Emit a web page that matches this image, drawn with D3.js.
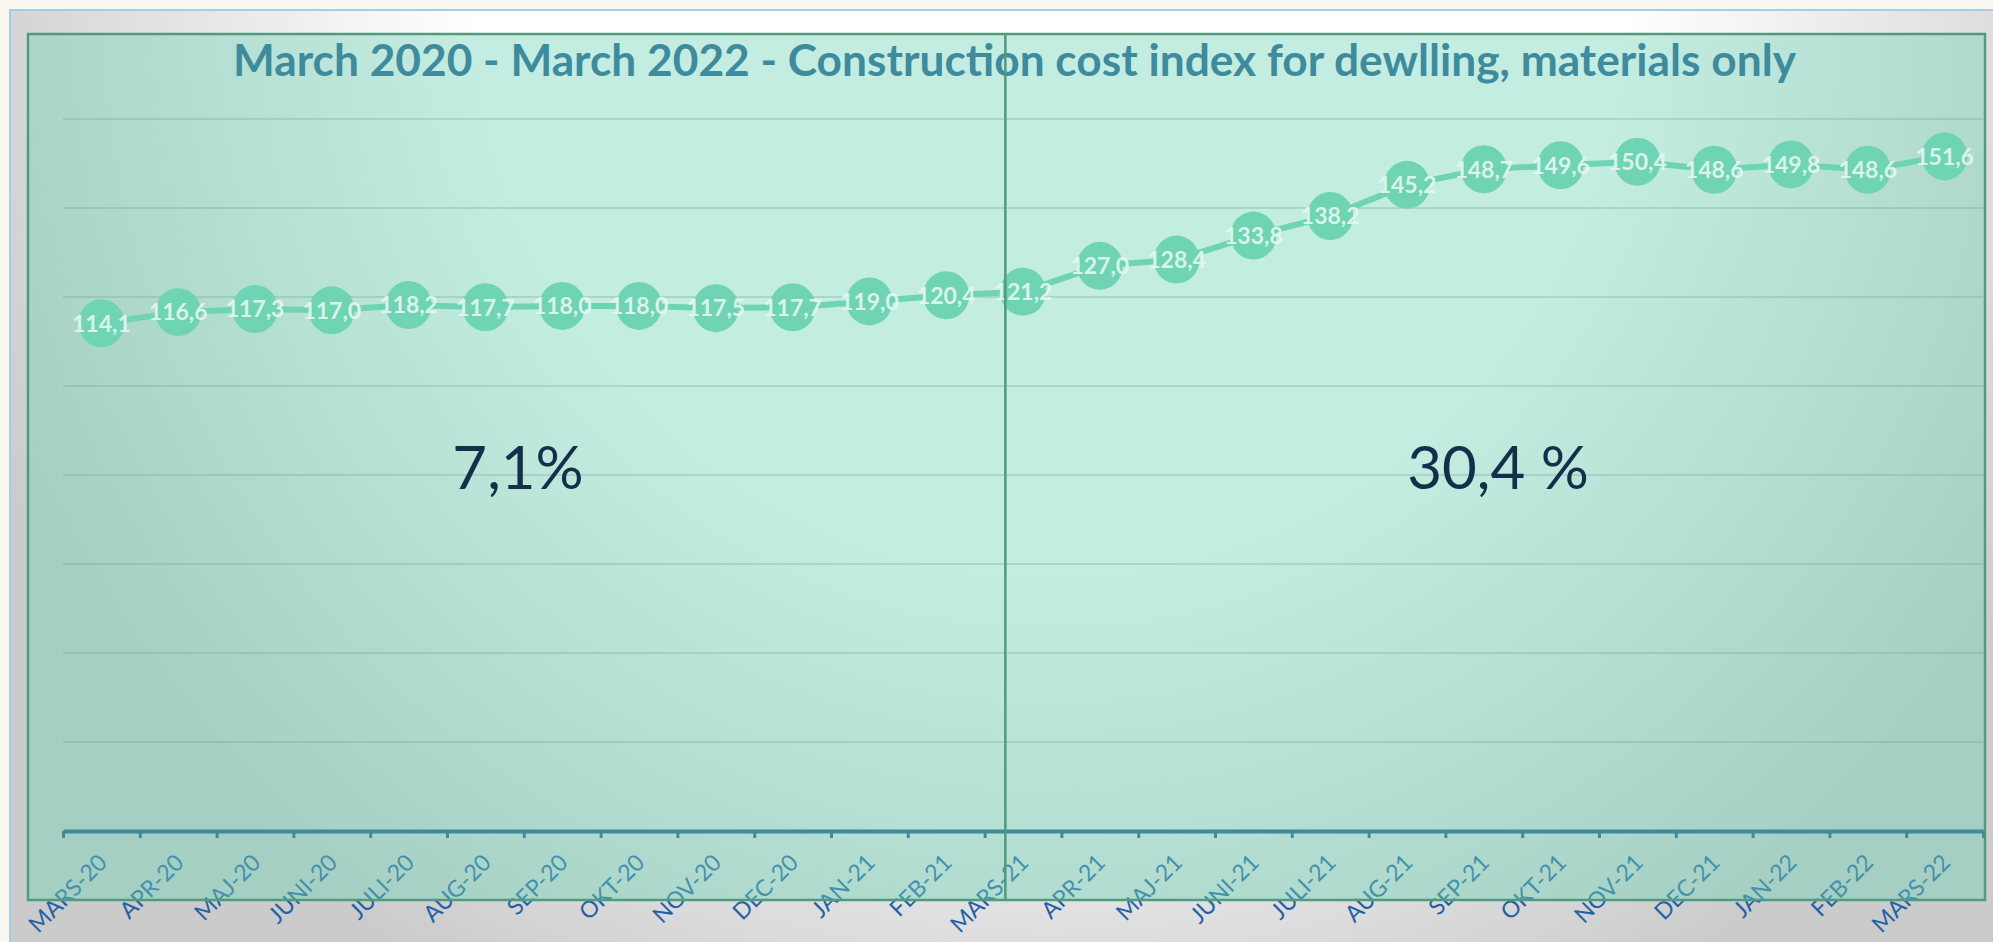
<!DOCTYPE html>
<html>
<head>
<meta charset="utf-8">
<script src="https://cdn.jsdelivr.net/npm/d3@7"></script>
<style>
  html, body { margin: 0; padding: 0; background: #f8f7f0; }
  svg { display: block; }
</style>
</head>
<body>
<svg id="chart" width="1993" height="942"></svg>
<script>
// ---- data ----
const categories = ["MARS-20","APR-20","MAJ-20","JUNI-20","JULI-20","AUG-20","SEP-20","OKT-20","NOV-20","DEC-20","JAN-21","FEB-21","MARS-21","APR-21","MAJ-21","JUNI-21","JULI-21","AUG-21","SEP-21","OKT-21","NOV-21","DEC-21","JAN-22","FEB-22","MARS-22"];
const values = [114.1,116.6,117.3,117.0,118.2,117.7,118.0,118.0,117.5,117.7,119.0,120.4,121.2,127.0,128.4,133.8,138.2,145.2,148.7,149.6,150.4,148.6,149.8,148.6,151.6];
const yTicks = [20,40,60,80,100,120,140,160];
const titleText = "March 2020 - March 2022 - Construction cost index for dewlling, materials only";
const periodLabels = ["7,1%", "30,4 %"];
const periodSplit = 12.27; // position of the divider line, in category units

const fmt = v => v.toFixed(1).replace(".", ",");

const svg = d3.select("#chart");
const W = 1993, H = 942;

const defs = svg.append("defs");
const og = defs.append("radialGradient").attr("id", "outerGrad")
  .attr("gradientUnits", "userSpaceOnUse")
  .attr("cx", 1050).attr("cy", 0).attr("r", 1150);
og.append("stop").attr("offset", 0).attr("stop-color", "#ffffff");
og.append("stop").attr("offset", 0.5).attr("stop-color", "#ffffff");
og.append("stop").attr("offset", 1).attr("stop-color", "#cbcbcb");

// page background
svg.append("rect").attr("width", W).attr("height", H).attr("fill", "#f8f7f0");
// outer chart frame
svg.append("rect").attr("x", 10).attr("y", 10).attr("width", W).attr("height", H)
  .attr("fill", "url(#outerGrad)").attr("stroke", "#a7cbe8").attr("stroke-width", 2);

// plot geometry
const plot = {x0: 28, y0: 34, x1: 1985, y1: 900};
const x = d3.scaleBand().domain(categories).range([63, 1983]).padding(0);
const xIdx = d3.scaleLinear().domain([0, categories.length]).range([63, 1983]);
const y = d3.scaleLinear().domain([0, 160]).range([831, 119]);

// category labels (drawn below the translucent plot fill)
svg.append("g").selectAll("text").data(categories).join("text")
  .attr("transform", d => `translate(${x(d) + x.bandwidth()/2 + 7},${864}) rotate(-45)`)
  .attr("text-anchor", "end")
  .attr("font-family", "Lato, 'Open Sans', sans-serif")
  .attr("font-size", 23)
  .attr("fill", "#2361a6")
  .text(d => d);

// plot area
svg.append("rect")
  .attr("x", plot.x0).attr("y", plot.y0)
  .attr("width", plot.x1 - plot.x0).attr("height", plot.y1 - plot.y0)
  .attr("fill", "rgba(112,212,182,0.42)")
  .attr("stroke", "#4f9b80").attr("stroke-width", 2.5);

// gridlines
svg.append("g").selectAll("line").data(yTicks).join("line")
  .attr("x1", 63).attr("x2", 1983)
  .attr("y1", d => y(d)).attr("y2", d => y(d))
  .attr("stroke", "rgba(95,150,130,0.25)").attr("stroke-width", 2);

// x axis with boundary ticks
const axisG = svg.append("g").attr("transform", `translate(0,${y(0)})`)
  .call(d3.axisBottom(xIdx).tickValues(d3.range(categories.length + 1))
    .tickSize(7).tickSizeOuter(0).tickFormat(""));
axisG.select(".domain").attr("stroke", "#3f8b9c").attr("stroke-width", 4);
axisG.selectAll(".tick line").attr("stroke", "#3f8b9c").attr("stroke-width", 3);

// title
svg.append("text")
  .attr("x", 233).attr("y", 76)
  .attr("textLength", 1563).attr("lengthAdjust", "spacingAndGlyphs")
  .attr("font-family", "Lato, 'Open Sans', sans-serif")
  .attr("font-weight", 700).attr("font-size", 44)
  .attr("fill", "#3e8b9e")
  .text(titleText);

// period change labels
const periodX = [518, 1498];
svg.append("g").selectAll("text").data(periodLabels).join("text")
  .attr("x", (d, i) => periodX[i]).attr("y", 489)
  .attr("text-anchor", "middle")
  .attr("font-family", "Lato, 'Open Sans', sans-serif")
  .attr("font-size", 60)
  .attr("fill", "#13304a")
  .text(d => d);

// line
const cx = d => x(d) + x.bandwidth() / 2;
const pts = categories.map((c, i) => [cx(c), y(values[i])]);
svg.append("path")
  .attr("d", d3.line()(pts))
  .attr("fill", "none").attr("stroke", "#6ed4b4").attr("stroke-width", 6)
  .attr("stroke-linejoin", "round");

// markers
svg.append("g").selectAll("ellipse").data(pts).join("ellipse")
  .attr("cx", d => d[0]).attr("cy", d => d[1])
  .attr("rx", 23).attr("ry", 24)
  .attr("fill", "#6ed4b4");

// data labels
svg.append("g").selectAll("text").data(values).join("text")
  .attr("x", (d, i) => pts[i][0]).attr("y", (d, i) => pts[i][1])
  .attr("dy", "0.36em")
  .attr("text-anchor", "middle")
  .attr("font-family", "Lato, 'Open Sans', sans-serif")
  .attr("font-weight", 700).attr("font-size", 23)
  .attr("fill", "#e6f7f1").attr("fill-opacity", 0.92)
  .text(d => fmt(d));

// divider line
svg.append("line")
  .attr("x1", xIdx(periodSplit)).attr("x2", xIdx(periodSplit))
  .attr("y1", plot.y0).attr("y2", plot.y1)
  .attr("stroke", "#4f9b80").attr("stroke-width", 2.5);
</script>
</body>
</html>
